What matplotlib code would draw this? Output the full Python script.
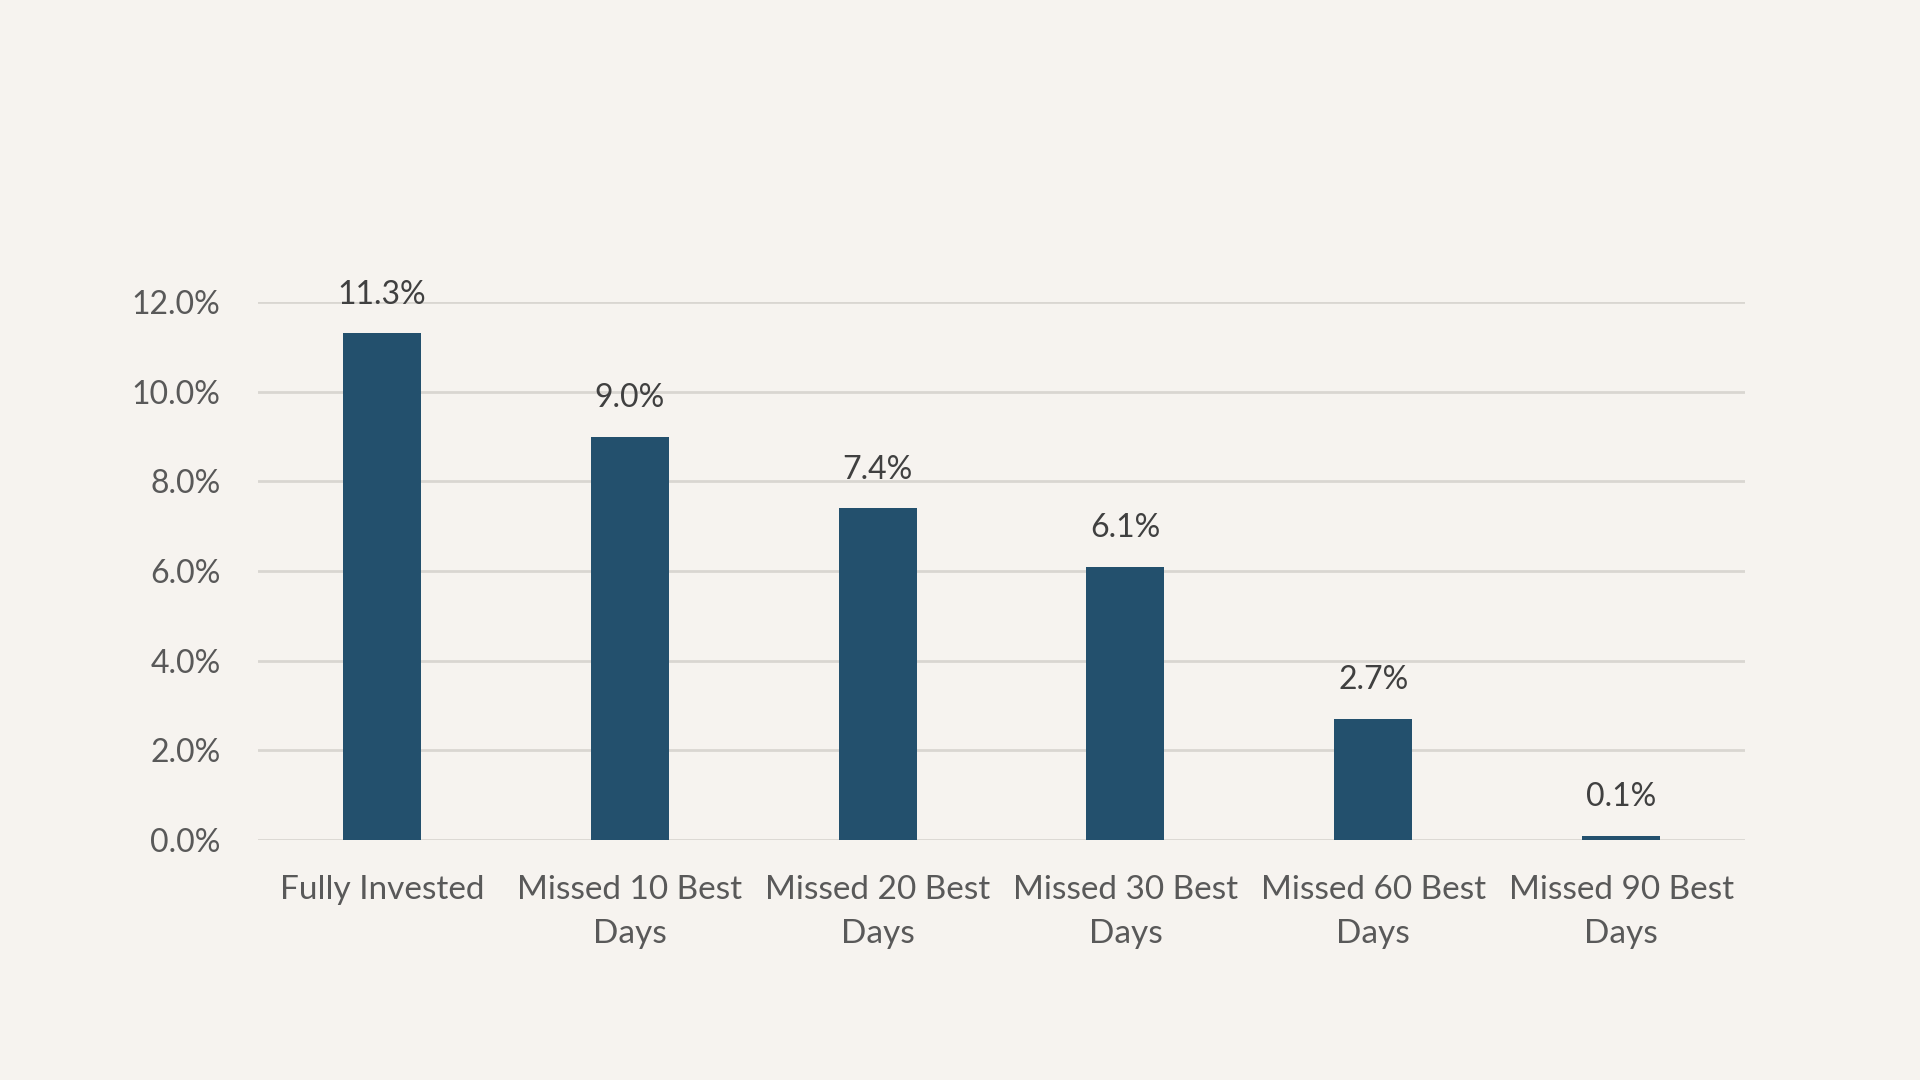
import matplotlib.pyplot as plt
from matplotlib.ticker import FuncFormatter

categories = ['Fully Invested', 'Missed 10 Best\nDays', 'Missed 20 Best\nDays',
              'Missed 30 Best\nDays', 'Missed 60 Best\nDays', 'Missed 90 Best\nDays']
returns = [11.3, 9.0, 7.4, 6.1, 2.7, 0.1]
yticks = [0, 2, 4, 6, 8, 10, 12]

bg = '#F6F3EF'
bar_color = '#23506D'
grid_color = '#D9D6D1'

plt.rcParams['font.family'] = ['Lato', 'DejaVu Sans']

fig = plt.figure(figsize=(19.2, 10.8), dpi=100, facecolor=bg)
ax = fig.add_axes([258 / 1920, 1 - 840 / 1080, (1745 - 258) / 1920, (840 - 302) / 1080])
ax.set_facecolor(bg)

x = range(len(categories))
bars = ax.bar(x, returns, width=0.315, color=bar_color, zorder=3)

for b, v in zip(bars, returns):
    ax.annotate(f'{v:.1f}%', (b.get_x() + b.get_width() / 2, b.get_height()),
                xytext=(0, 17), textcoords='offset points', ha='center', va='bottom',
                fontsize=23, color='#404040')

ax.set_xlim(-0.5, len(categories) - 0.5)
ax.set_ylim(0, 12)
ax.set_yticks(yticks)
ax.yaxis.set_major_formatter(FuncFormatter(lambda v, p: f'{v:.1f}%'))
ax.set_xticks(list(x))
ax.set_xticklabels(categories, linespacing=1.6, fontsize=24)

ax.grid(axis='y', color=grid_color, linewidth=2, zorder=0)
for s in ax.spines.values():
    s.set_visible(False)
ax.tick_params(axis='both', length=0, labelsize=23, labelcolor='#595959')
ax.tick_params(axis='y', pad=27)
ax.tick_params(axis='x', pad=25, labelsize=24)

fig.savefig('out.png', dpi=100, facecolor=bg)
